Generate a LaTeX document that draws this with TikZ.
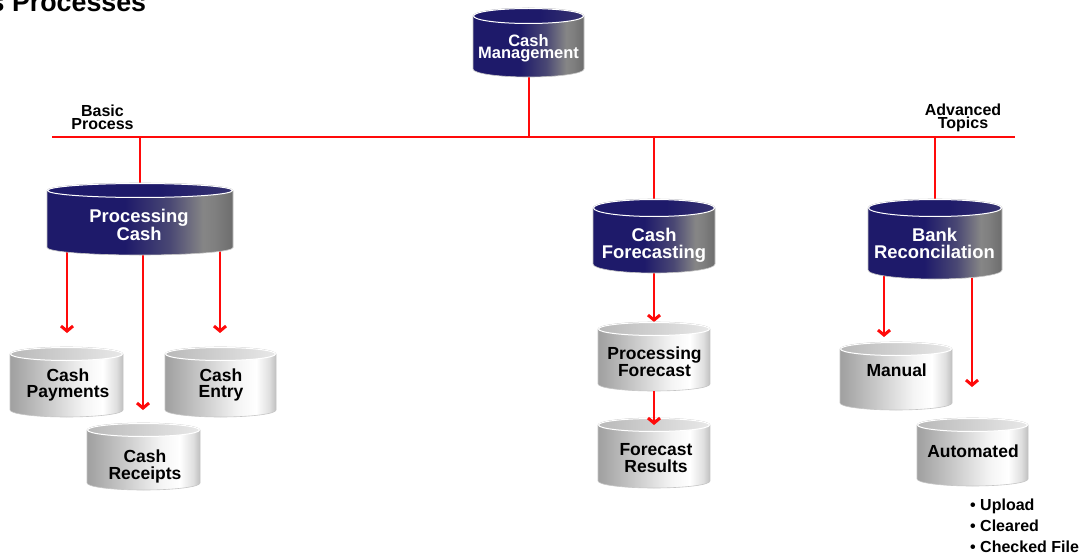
\documentclass[tikz,border=0pt]{standalone}
\usepackage{fontspec}
\setmainfont{Liberation Sans}
\usetikzlibrary{arrows.meta,calc}
\definecolor{navy}{HTML}{1E1A6A}
\definecolor{redline}{HTML}{FF0A0A}
\pgfdeclarehorizontalshading{navybody}{100bp}{color(0bp)=(navy); color(25bp)=(navy); color(46bp)=(navy); color(58bp)=(navy!55!gray); color(67bp)=(gray!95); color(70bp)=(gray); color(75bp)=(gray!85!black); color(100bp)=(gray!85!black)}
\pgfdeclarehorizontalshading{navycap}{100bp}{color(0bp)=(navy); color(25bp)=(navy); color(55bp)=(navy); color(75bp)=(navy!75!gray); color(100bp)=(navy!75!gray)}
\pgfdeclarehorizontalshading{graybody}{100bp}{color(0bp)=(gray!75); color(25bp)=(gray!75); color(40bp)=(gray!45); color(58bp)=(gray!8); color(66bp)=(white); color(72bp)=(gray!25); color(75bp)=(gray!50); color(100bp)=(gray!50)}
\pgfdeclarelayer{background}
\pgfsetlayers{background,main}
\newcommand\mycyl[8]{%
  \shadedraw[shading=#7, draw=gray!45, line width=0.6pt] (#2,-#4-#6) -- (#2,-#5+#6) arc[start angle=180,end angle=360,x radius={(#3-#2)/2},y radius=#6] -- (#3,-#4-#6) arc[start angle=0,end angle=180,x radius={(#3-#2)/2},y radius=#6] -- cycle;
  \path[#8, draw=white, line width=1pt] ({(#2+#3)/2},-#4-#6) ellipse[x radius={(#3-#2)/2-0.5},y radius={#6-0.5}];
  \node[cylbox, minimum width={(#3-#2)*1pt}, minimum height={(#5-#4)*1pt}] (#1) at ({(#2+#3)/2},{-(#4+#5)/2}) {};
}
\tikzset{
  cylbox/.style={inner sep=0pt, outer sep=0pt, draw=none, rectangle},
  navytop/.style={shading=navycap},
  graytop/.style={left color=gray!55, right color=gray!18},
  navytxt/.style={inner sep=0pt, text=white, align=center, font=\bfseries\fontsize{18.4}{17}\selectfont},
  graytxt/.style={inner sep=0pt, text=black, align=center, font=\bfseries\fontsize{17.5}{16.5}\selectfont},
  toptxt/.style={inner sep=0pt, text=black, align=center, font=\bfseries\fontsize{16}{12.6}\selectfont},
  redl/.style={draw=redline, line width=2pt},
  redarrow/.style={draw=redline, line width=2pt, -{Straight Barb[length=5pt,width=12pt,line width=3pt]}},
}
\begin{document}
\begin{tikzpicture}[x=1pt,y=1pt]
\useasboundingbox (0,0) rectangle (1083,-556);

% title
\node[anchor=base west, inner sep=0pt, font=\bfseries\fontsize{26.8}{30}\selectfont] (title) at (-10.5,-12) {s Processes};

% cylinders
\mycyl{cm}{473}{584}{8}{77}{8}{navybody}{navytop}
\mycyl{pc}{47}{233}{183}{255}{7.5}{navybody}{navytop}
\mycyl{cf}{593}{715}{199}{273}{9}{navybody}{navytop}
\mycyl{br}{868}{1002}{199}{279}{9}{navybody}{navytop}
\mycyl{cpay}{10}{123}{347}{417}{7}{graybody}{graytop}
\mycyl{centry}{165}{276}{347}{417}{7}{graybody}{graytop}
\mycyl{crec}{87}{200}{423}{490}{7}{graybody}{graytop}
\mycyl{pf}{598}{710}{322}{391}{7}{graybody}{graytop}
\mycyl{fr}{598}{710}{418}{488}{7}{graybody}{graytop}
\mycyl{man}{840}{952}{342}{410}{7}{graybody}{graytop}
\mycyl{aut}{917}{1028}{418}{486}{7}{graybody}{graytop}

% texts
\node[navytxt, font=\bfseries\fontsize{16.5}{12.3}\selectfont] (cmt) at (528.5,-48.5) {Cash\\Management};
\node[navytxt] (pct) at (139,-225) {Processing\\Cash};
\node[navytxt] (cft) at (654,-245) {Cash\\Forecasting};
\node[navytxt] (brt) at (934.5,-243.3) {Bank\\Reconcilation};
\node[graytxt] (cpayt) at (68,-385) {Cash\\Payments};
\node[graytxt] (centryt) at (221,-385) {Cash\\Entry};
\node[graytxt] (crect) at (145,-466.5) {Cash\\Receipts};
\node[graytxt] (pft) at (654.5,-361.7) {Processing\\Forecast};
\node[graytxt] (frt) at (656,-458.3) {Forecast\\Results};
\node[graytxt] (mant) at (896.7,-370) {Manual};
\node[graytxt] (autt) at (973,-450.8) {Automated};
\node[toptxt] (basic) at (102.5,-117) {Basic\\Process};
\node[toptxt] (adv) at (963,-117.7) {Advanced\\Topics};
\node[anchor=north west, inner sep=0pt, align=left, font=\bfseries\fontsize{16}{21}\selectfont] (bul) at (970,-498.3) {\textbullet\ Upload\\\textbullet\ Cleared\\\textbullet\ Checked File};

% coordinates
\coordinate (hl) at (52,-137);
\coordinate (hr) at (1015,-137);
\coordinate (a1) at (67,-333);
\coordinate (a2) at (143,-410);
\coordinate (a3) at (220,-333);
\coordinate (b1) at (884,-337);
\coordinate (b2) at (972,-387);

% arrow drawn over the Forecast Results top
\draw[redarrow] (pf.south) -- ([yshift=-7pt]fr.north);

\begin{pgfonlayer}{background}
\fill[white] (0,0) rectangle (1083,-556);
\draw[redl] (hl) -- (hr);
\draw[redl] (cm.center) -- (cm.center |- hl);
\draw[redl] (pc.north |- hl) -- (pc.center);
\draw[redl] (cf.north |- hl) -- (cf.center);
\draw[redl] (br.north |- hl) -- (br.center);
\draw[redarrow] (pc.center -| a1) -- (a1);
\draw[redarrow] (pc.center -| a2) -- (a2);
\draw[redarrow] (pc.center -| a3) -- (a3);
\draw[redarrow] (cf.center) -- (pf.north);
\draw[redarrow] (br.center -| b1) -- (b1);
\draw[redarrow] (br.center -| b2) -- (b2);
\end{pgfonlayer}
\end{tikzpicture}
\end{document}
